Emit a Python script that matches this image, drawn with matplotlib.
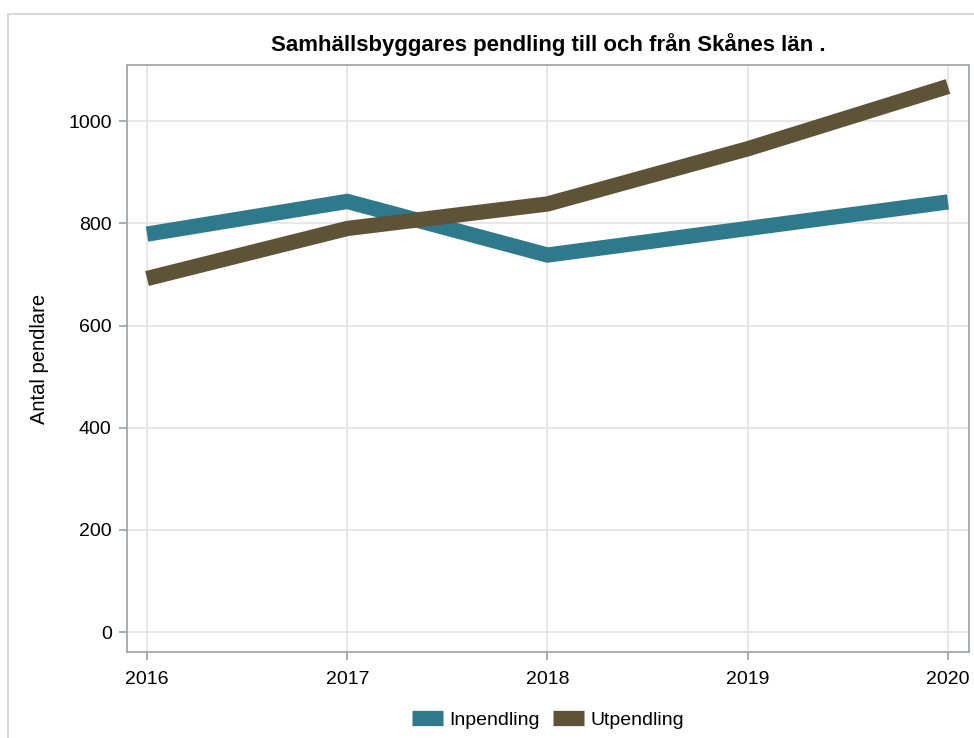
import matplotlib.pyplot as plt
from matplotlib.patches import Rectangle

plt.rcParams['font.family'] = ['Liberation Sans', 'DejaVu Sans']

years = [2016, 2017, 2018, 2019, 2020]
inpendling = [779, 843, 738, 790, 842]
utpendling = [692, 790, 838, 946, 1068]

teal = '#2e7a8c'
brown = '#5f5337'
spine_col = '#a3a7ab'
grid_col = '#e3e3e3'

fig = plt.figure(figsize=(9.74, 7.38), dpi=100)
ax = fig.add_axes([127 / 974, 1 - 652 / 738, (969 - 127) / 974, (652 - 65) / 738])

ax.plot(years, inpendling, color=teal, lw=11, solid_joinstyle='miter',
        solid_capstyle='butt', label='Inpendling', zorder=3)
ax.plot(years, utpendling, color=brown, lw=11, solid_joinstyle='miter',
        solid_capstyle='butt', label='Utpendling', zorder=3)

ax.set_xlim(2015.9, 2020.105)
ax.set_ylim(-39, 1110)
ax.set_xticks(years)
ax.set_yticks([0, 200, 400, 600, 800, 1000])
ax.grid(True, color=grid_col, lw=1.2)
ax.set_axisbelow(True)

for s in ax.spines.values():
    s.set_color(spine_col)
    s.set_linewidth(1.3)
ax.tick_params(axis='both', colors=spine_col, labelcolor='black', labelsize=14,
               length=6, width=1.3)
ax.tick_params(axis='x', pad=8)
ax.tick_params(axis='y', pad=5)

ax.set_ylabel('Antal pendlare', fontsize=14.5, labelpad=14)
ax.set_title('Samhällsbyggares pendling till och från Skånes län .', fontsize=16,
             fontweight='bold', pad=10)

fig.legend(loc='center', bbox_to_anchor=(548 / 974, 1 - 720 / 738), ncol=2,
           frameon=False, fontsize=14, handlelength=1.6, handletextpad=0.3,
           columnspacing=0.7)

# outer light frame
fig.patches.append(Rectangle((8 / 974, -0.1), 1.2, 1 - 14 / 738 + 0.1,
                             transform=fig.transFigure, fill=False,
                             edgecolor='#d9d9d9', lw=1.5))

fig.savefig('out.png', dpi=100)
